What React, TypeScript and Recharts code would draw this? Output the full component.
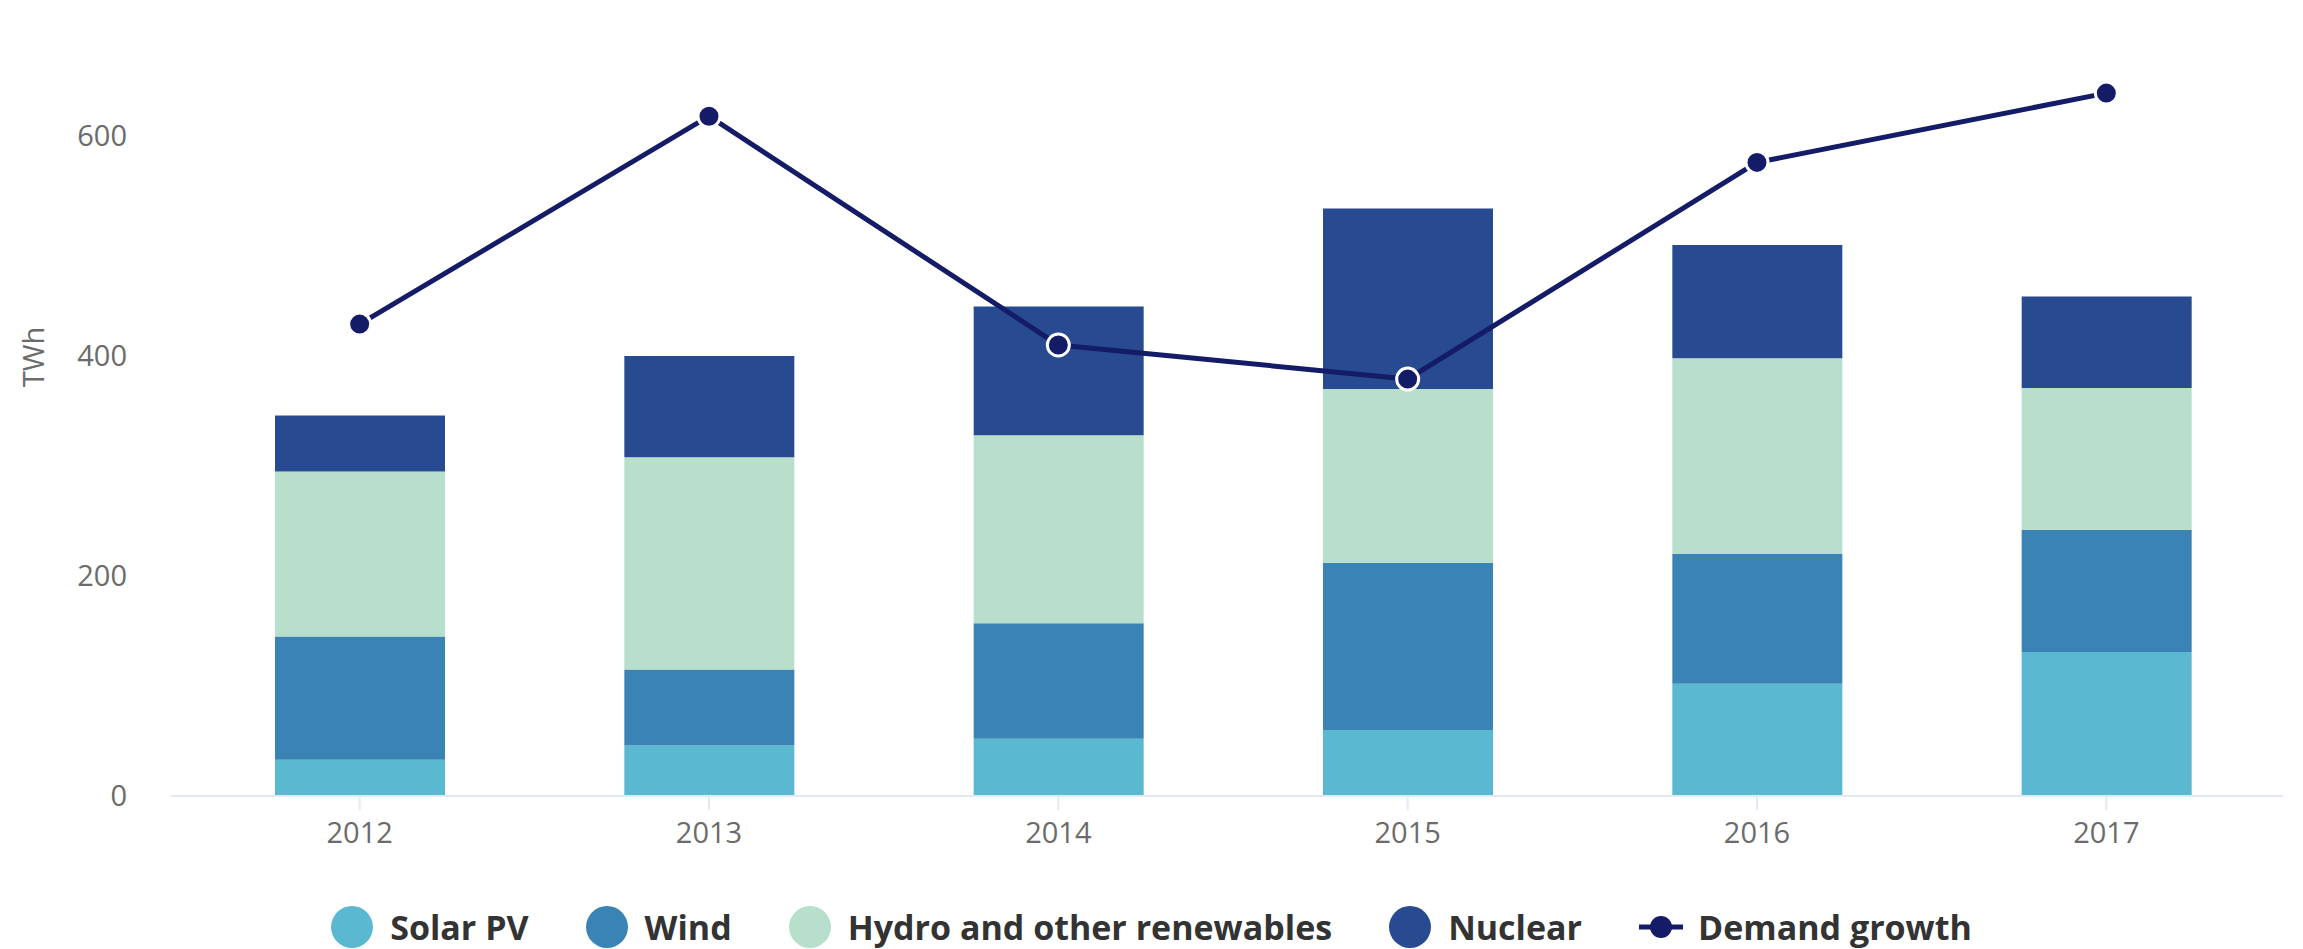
import React from "react";
import { Bar, ComposedChart, Line, XAxis, YAxis } from "recharts";

const years = ["2012", "2013", "2014", "2015", "2016", "2017"];
const solarPv = [33, 46, 52, 60, 102, 131];
const wind = [112, 69, 105, 152, 118, 111];
const hydro = [150, 193, 171, 158, 178, 129];
const nuclear = [51, 92, 117, 164, 103, 83];
const demandGrowth = [429, 618, 410, 379, 576, 639];
const yTicks = [0, 200, 400, 600];

const stackSeries = [
  { key: "solar", name: "Solar PV", color: "#5ab8d1" },
  { key: "wind", name: "Wind", color: "#3983b5" },
  { key: "hydro", name: "Hydro and other renewables", color: "#b7dfcc" },
  { key: "nuclear", name: "Nuclear", color: "#284a91" },
];
const lineColor = "#141c68";

const data = years.map((year, i) => ({
  year,
  solar: solarPv[i],
  wind: wind[i],
  hydro: hydro[i],
  nuclear: nuclear[i],
  demand: demandGrowth[i],
}));

const font = "'Open Sans', sans-serif";
const tickStyle = { fill: "#6b6b6b", fontSize: 29, fontFamily: font };

function ChartLegend() {
  return (
    <div
      style={{
        position: "absolute",
        left: 0,
        top: 908,
        width: 2303,
        height: 38,
        display: "flex",
        justifyContent: "center",
        alignItems: "center",
        gap: 57,
        fontFamily: font,
        fontWeight: 700,
        fontSize: 34,
        lineHeight: "38px",
        color: "#333",
      }}
    >
      {stackSeries.map((s) => (
        <div key={s.key} style={{ display: "flex", alignItems: "center" }}>
          <span
            style={{
              width: 42,
              height: 42,
              borderRadius: "50%",
              background: s.color,
              marginRight: 17,
              display: "inline-block",
            }}
          />
          <span>{s.name}</span>
        </div>
      ))}
      <div style={{ display: "flex", alignItems: "center" }}>
        <svg width={44} height={24} style={{ marginRight: 15 }}>
          <line x1={0} y1={12} x2={44} y2={12} stroke={lineColor} strokeWidth={5} />
          <circle cx={22} cy={12} r={11} fill={lineColor} />
        </svg>
        <span>Demand growth</span>
      </div>
    </div>
  );
}

export default function App() {
  return (
    <div style={{ position: "absolute", left: 0, top: 0, width: 2303, height: 949, background: "#fff", overflow: "hidden" }}>
      <ComposedChart
        width={2303}
        height={949}
        data={data}
        margin={{ top: 26, right: 20, left: 0, bottom: 0 }}
      >
        <XAxis
          dataKey="year"
          height={153}
          padding={{ left: 14, right: 2 }}
          axisLine={{ stroke: "#e3e8f3", strokeWidth: 2 }}
          tickLine={{ stroke: "#e3e8f3", strokeWidth: 2 }}
          tickSize={14}
          tickMargin={12}
          tick={tickStyle}
        />
        <YAxis
          width={171}
          domain={[0, 700]}
          ticks={yTicks}
          axisLine={false}
          tickLine={false}
          tickSize={0}
          tickMargin={44}
          tick={tickStyle}
          label={{
            content: () => (
              <text
                x={32}
                y={357}
                transform="rotate(-90 32 357)"
                textAnchor="middle"
                dominantBaseline="central"
                fill="#6b6b6b"
                fontSize={29}
                fontFamily={font}
              >
                TWh
              </text>
            ),
          }}
        />
        {stackSeries.map((s) => (
          <Bar
            key={s.key}
            dataKey={s.key}
            name={s.name}
            stackId="supply"
            fill={s.color}
            barSize={170}
            isAnimationActive={false}
          />
        ))}
        <Line
          type="linear"
          dataKey="demand"
          name="Demand growth"
          stroke={lineColor}
          strokeWidth={5}
          dot={{ r: 11, fill: lineColor, stroke: "#fff", strokeWidth: 3 }}
          activeDot={false}
          isAnimationActive={false}
        />
      </ComposedChart>
      <ChartLegend />
    </div>
  );
}
